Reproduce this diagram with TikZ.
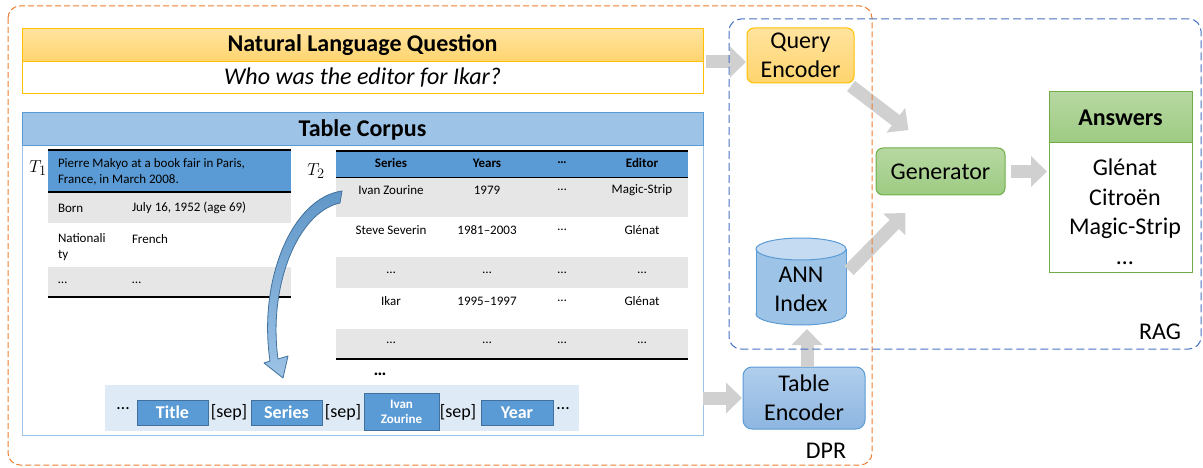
\documentclass[tikz,border=0pt]{standalone}
\usepackage{fontspec}
\setmainfont{Carlito}
\usetikzlibrary{arrows.meta,calc}
\definecolor{dprorange}{HTML}{ED7D31}
\definecolor{ragblue}{HTML}{4472C4}
\definecolor{qline}{HTML}{FFC000}
\definecolor{qtop}{HTML}{FFE39E}
\definecolor{qbot}{HTML}{FFD46E}
\definecolor{cfill}{HTML}{9DC3E6}
\definecolor{cline}{HTML}{5B9BD5}
\definecolor{tblue}{HTML}{5B9BD5}
\definecolor{rowgray}{HTML}{E6E6E6}
\definecolor{seqbg}{HTML}{DEEBF7}
\definecolor{seqline}{HTML}{41719C}
\definecolor{gtop}{HTML}{B7D8A2}
\definecolor{gbot}{HTML}{9DCB82}
\definecolor{gline}{HTML}{70AD47}
\definecolor{btop}{HTML}{B1CEEC}
\definecolor{bbot}{HTML}{8DB6E1}
\definecolor{annfill}{HTML}{9DC3E6}
\definecolor{anntop}{HTML}{C4DBF1}
\definecolor{arrowgray}{HTML}{D0D0D0}
\begin{document}
\begin{tikzpicture}[x=1pt,y=-1pt,
  big/.style={font=\fontsize{24}{29}\selectfont},
  small/.style={font=\fontsize{13}{16}\selectfont},
  plain/.style={inner sep=0pt, outer sep=0pt},
  qstyle/.style={plain, draw=qline, line width=1pt, top color=qtop, bottom color=qbot},
  cstyle/.style={plain, draw=cline, line width=1pt, fill=cfill},
  seqbox/.style={plain, draw=seqline, line width=1pt, fill=tblue, text=white, font=\fontsize{18}{20}\selectfont\bfseries},
  septext/.style={plain, font=\fontsize{18}{20}\selectfont},
  gstyle/.style={plain, draw=gline, line width=1pt, top color=gtop, bottom color=gbot},
  bstyle/.style={plain, draw=cline, line width=1pt, top color=btop, bottom color=bbot},
  bigarrow/.style={draw=arrowgray, line width=13pt, -{Triangle[length=16pt,width=30pt]}},
  cell/.style={plain, small},
  hcell/.style={plain, font=\fontsize{13}{16}\selectfont\bfseries},
]
\useasboundingbox (0,0) rectangle (1203,468);

% ---------- question ----------
\node[qstyle, minimum width=681, minimum height=33, big] (nlqh) at (362.5,45.5) {\bfseries Natural Language Question};
\node[plain, draw=qline, line width=1pt, fill=white, minimum width=681, minimum height=32, big] (nlqq) at (362.5,78) {\itshape Who was the editor for Ikar?};

% ---------- corpus ----------
\node[plain, draw=cfill, line width=1pt, minimum width=681, minimum height=289] (corp) at (362.5,290.5) {};
\node[cstyle, minimum width=681, minimum height=33, big] (corph) at (362.5,129.5) {\bfseries Table Corpus};

% T1
\node[plain, font=\fontsize{19}{20}\selectfont] (t1) at (38,168) {$T_1$};
\fill[rowgray] (48,192) rectangle (291,223);
\fill[rowgray] (48,267) rectangle (291,296);
\fill[tblue] (48,150) rectangle (291,192);
\draw[line width=2.5pt] (48,150) -- (291,150);
\draw[line width=1.5pt] (48,192) -- (291,192);
\draw[line width=2.5pt] (48,297) -- (291,297);
\node[cell, anchor=west, align=left] (t1cap) at (58,172) {Pierre Makyo at a book fair in Paris,\\France, in March 2008.};
\node[cell, anchor=west] (t1a) at (58,208) {Born};
\node[cell, anchor=west] (t1b) at (132,208) {July 16, 1952 (age 69)};
\node[cell, anchor=west, align=left] (t1c) at (58,247) {Nationali\\ty};
\node[cell, anchor=west] (t1d) at (132,239) {French};
\node[cell, anchor=west] (t1e) at (58,283) {\ldots};
\node[cell, anchor=west] (t1f) at (132,283) {\ldots};

% T2
\node[plain, font=\fontsize{19}{20}\selectfont] (t2) at (316,171) {$T_2$};
\fill[tblue] (336,151) rectangle (688,177);
\fill[rowgray] (336,178) rectangle (688,217);
\fill[rowgray] (336,257) rectangle (688,288);
\fill[rowgray] (336,329) rectangle (688,359);
\draw[line width=2.5pt] (336,151) -- (688,151);
\draw[line width=1.5pt] (336,177.5) -- (688,177.5);
\draw[line width=2.5pt] (336,359) -- (688,359);
\node[hcell] (h1) at (391,163) {Series};
\node[hcell] (h2) at (487,163) {Years};
\node[hcell] (h3) at (562,163) {\ldots};
\node[hcell] (h4) at (642,163) {Editor};
\node[cell] (r11) at (391,190) {Ivan Zourine};
\node[cell] (r12) at (487,190) {1979};
\node[cell] (r13) at (562,190) {\ldots};
\node[cell] (r14) at (642,190) {Magic-Strip};
\node[cell] (r21) at (391,230) {Steve Severin};
\node[cell] (r22) at (487,230) {1981--2003};
\node[cell] (r23) at (562,230) {\ldots};
\node[cell] (r24) at (642,230) {Glénat};
\node[cell] (r31) at (391,273) {\ldots};
\node[cell] (r32) at (487,273) {\ldots};
\node[cell] (r33) at (562,273) {\ldots};
\node[cell] (r34) at (642,273) {\ldots};
\node[cell] (r41) at (391,301) {Ikar};
\node[cell] (r42) at (487,301) {1995--1997};
\node[cell] (r43) at (562,301) {\ldots};
\node[cell] (r44) at (642,301) {Glénat};
\node[cell] (r51) at (391,343) {\ldots};
\node[cell] (r52) at (487,343) {\ldots};
\node[cell] (r53) at (562,343) {\ldots};
\node[cell] (r54) at (642,343) {\ldots};
\node[plain, font=\fontsize{18}{20}\selectfont\bfseries] (more) at (380,374) {\ldots};

% sequence
\fill[seqbg] (105,385) rectangle (579,431);
\node[septext] (s0) at (123,409) {\ldots};
\node[seqbox, minimum width=71, minimum height=25] (stitle) at (172.5,412.5) {Title};
\node[septext] (s1) at (229,412) {[sep]};
\node[seqbox, minimum width=71, minimum height=25] (sseries) at (286.5,412.5) {Series};
\node[septext] (s2) at (343,412) {[sep]};
\node[seqbox, minimum width=75, minimum height=37, align=center, font=\fontsize{13}{15}\selectfont\bfseries] (sivan) at (401.5,411.5) {Ivan\\Zourine};
\node[septext] (s3) at (458,412) {[sep]};
\node[seqbox, minimum width=72, minimum height=25] (syear) at (517,412.5) {Year};
\node[septext] (s4) at (563,409) {\ldots};

% curved arrow
\draw[draw=seqline, line width=0.8pt, top color=tblue!85!gray, bottom color=cfill, line join=round]
  (342,191) .. controls (292,198) and (258,280) .. (270,361)
  -- (264,363) -- (283,378) -- (288,356) -- (278,359)
  .. controls (268,285) and (298,212) .. (340,203) -- cycle;

% ---------- right side ----------
\node[qstyle, rounded corners=7pt, minimum width=107, minimum height=55, big, align=center] (qe) at (800.5,55.5) {Query\\Encoder};
\node[gstyle, rounded corners=7pt, minimum width=129, minimum height=47, big] (gen) at (940.5,171.5) {Generator};
\node[gstyle, minimum width=143, minimum height=51, big] (ansh) at (1120.5,117.5) {\bfseries Answers};
\node[plain, draw=gline, line width=1pt, fill=white, minimum width=143, minimum height=129] (ansb) at (1120.5,207.5) {};
\node[plain, big, align=center, font=\fontsize{24}{29.5}\selectfont] (anst) at (1125,212) {Glénat\\Citroën\\Magic-Strip\\\ldots};
\node[bstyle, rounded corners=9pt, minimum width=122, minimum height=62, big, align=center] (te) at (804,398) {Table\\Encoder};

% ANN cylinder
\filldraw[draw=cline, line width=1pt, fill=annfill] (801,314) ellipse [x radius=45, y radius=11];
\fill[annfill] (756,249) rectangle (846,314);
\draw[cline, line width=1pt] (756,249) -- (756,314) (846,249) -- (846,314);
\filldraw[draw=cline, line width=1pt, fill=anntop] (801,249) ellipse [x radius=45, y radius=11];
\node[plain, minimum width=90, minimum height=87] (ann) at (801,281.5) {};
\node[plain, big, align=center] (annt) at (801,289) {ANN\\Index};

% ---------- gray arrows ----------
\draw[bigarrow, shorten <=3pt, shorten >=1pt] (nlqh.south east) -- (qe.west |- nlqh.south east);
\draw[bigarrow] ([shift={(-3,3)}]qe.south east) -- ([shift={(-32,-18)}]gen.north);
\draw[bigarrow] ([shift={(3,-11)}]ann.east) -- ([shift={(-35,18)}]gen.south);
\draw[bigarrow, shorten <=6pt, shorten >=2pt] (gen.east) -- (ansb.west |- gen.east);
\draw[bigarrow, shorten >=4pt] ([xshift=3pt]te.north) -- ([xshift=3pt]te.north |- ann.south);
\draw[bigarrow, shorten >=1pt] (te.west -| corp.east) -- (te.west);

% ---------- dashed groups ----------
\draw[dprorange, dash pattern=on 6pt off 3pt, rounded corners=12pt, line width=1pt] (8,6) rectangle (872,465);
\draw[ragblue, dash pattern=on 8pt off 4pt, rounded corners=12pt, line width=1pt] (729,19) rectangle (1201,349);
\node[plain, big] (dpr) at (826,451) {DPR};
\node[plain, big] (rag) at (1160,332) {RAG};
\end{tikzpicture}
\end{document}
